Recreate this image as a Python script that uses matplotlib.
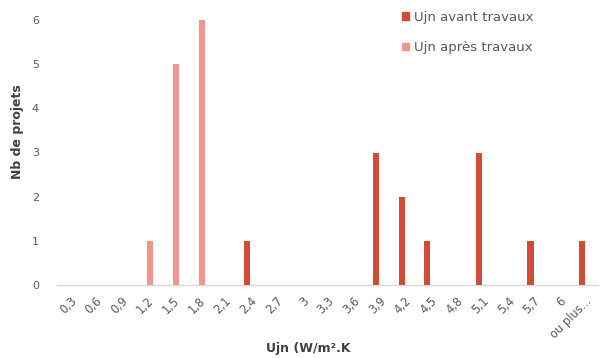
import matplotlib
matplotlib.use("Agg")
import matplotlib.pyplot as plt
from matplotlib.patches import Patch
import numpy as np

categories = ["0,3", "0,6", "0,9", "1,2", "1,5", "1,8", "2,1", "2,4", "2,7", "3",
              "3,3", "3,6", "3,9", "4,2", "4,5", "4,8", "5,1", "5,4", "5,7", "6", "ou plus..."]
avant = [0, 0, 0, 0, 0, 0, 0, 1, 0, 0, 0, 0, 3, 2, 1, 0, 3, 0, 1, 0, 1]
apres = [0, 0, 0, 1, 5, 6, 0, 0, 0, 0, 0, 0, 0, 0, 0, 0, 0, 0, 0, 0, 0]
yticks = [0, 1, 2, 3, 4, 5, 6]

c_avant = "#D14B36"
c_apres = "#F1968C"
txt = "#595959"

plt.rcParams['font.family'] = ['DejaVu Sans']

fig = plt.figure(figsize=(6.02, 3.58), dpi=100)
ax = fig.add_axes([57/602, 1-285/358, (598-57)/602, (285-20)/358])

x = np.arange(len(categories))
w = 0.235
ax.bar(x - 0.12, avant, width=w, color=c_avant, zorder=3)
ax.bar(x + 0.12, apres, width=w, color=c_apres, zorder=3)

ax.set_xlim(-0.5, len(categories) - 0.5)
ax.set_ylim(0, 6)
ax.set_yticks(yticks)
ax.set_yticklabels([str(v) for v in yticks], fontsize=8, color=txt)
ax.set_xticks(x)
ax.set_xticklabels(categories, rotation=45, ha='right', rotation_mode='anchor',
                   fontsize=8.3, color=txt)
ax.tick_params(axis='both', length=0)
ax.tick_params(axis='y', pad=13)
ax.tick_params(axis='x', pad=7)
for s in ['top', 'right', 'left']:
    ax.spines[s].set_visible(False)
ax.spines['bottom'].set_color('#D9D9D9')
ax.spines['bottom'].set_linewidth(1.0)

ax.set_xlabel("Ujn (W/m².K", fontsize=9, fontweight='bold', color='#404040')
ax.xaxis.set_label_coords((308-57)/(598-57), 1 - (342-20)/(285-20))
ax.set_ylabel("Nb de projets", fontsize=9, fontweight='bold', color='#404040')
ax.yaxis.set_label_coords((24-57)/(598-57), 1 - (132-20)/(285-20))

handles = [Patch(color=c_avant, label="Ujn avant travaux"),
           Patch(color=c_apres, label="Ujn après travaux")]
leg = ax.legend(handles=handles, loc='upper left', bbox_to_anchor=(402/602, 1 - 11/358),
                bbox_transform=fig.transFigure, frameon=False, fontsize=9.5,
                handlelength=0.55, handleheight=0.55, handletextpad=0.35, labelspacing=1.3,
                borderaxespad=0, borderpad=0)
for t in leg.get_texts():
    t.set_color(txt)

fig.savefig("out.png", dpi=100)
